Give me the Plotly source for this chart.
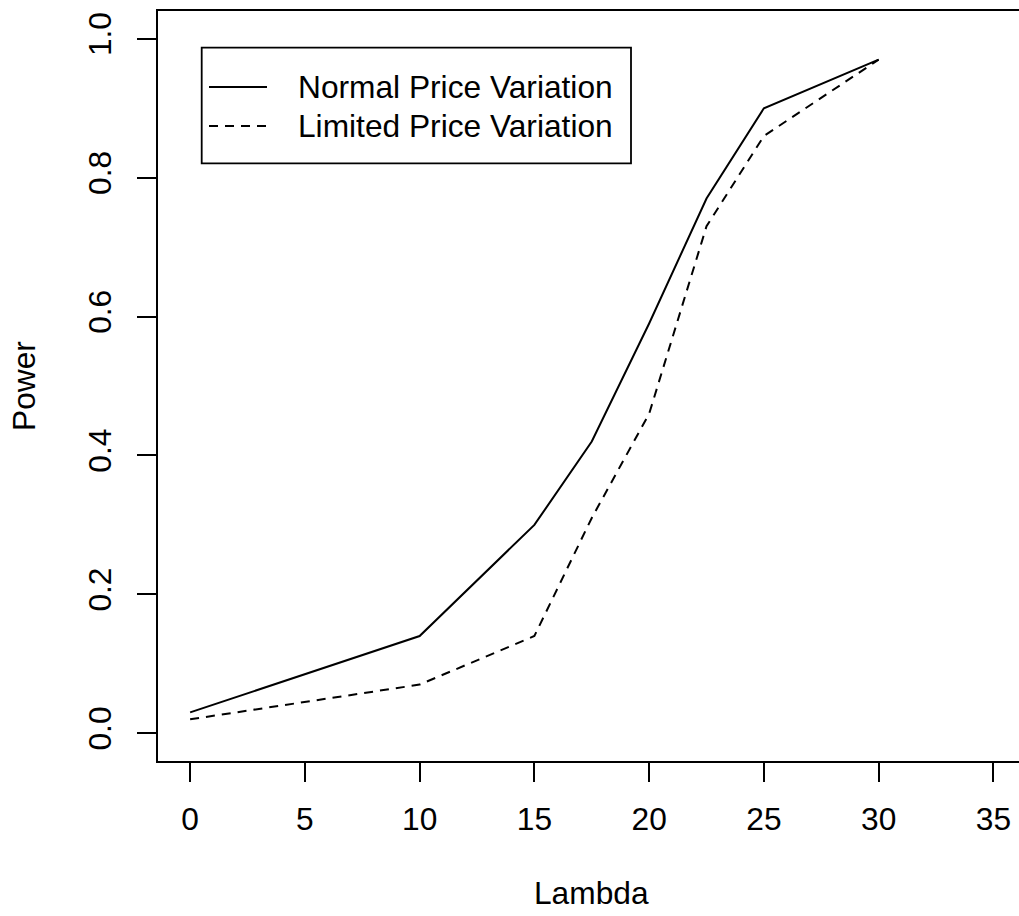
import plotly.graph_objects as go

# ---- data ----
lambda_vals = [0, 10, 15, 17.5, 20, 22.5, 25, 30]
normal_power = [0.03, 0.14, 0.30, 0.42, 0.59, 0.77, 0.90, 0.97]
limited_power = [0.02, 0.07, 0.14, 0.31, 0.46, 0.73, 0.86, 0.97]
series_names = ["Normal Price Variation", "Limited Price Variation"]
x_ticks = [0, 5, 10, 15, 20, 25, 30, 35]
y_ticks = [0.0, 0.2, 0.4, 0.6, 0.8, 1.0]

W, H = 1019, 916
ML, MR, MT, MB = 158, 0, 11, 155
PW, PH = W - ML - MR, H - MT - MB
FONT = "Liberation Sans, Arial, sans-serif"
FS = 31.7
LW = 2.0


def px(xp):
    return (xp - ML) / PW


def py(yp):
    return (H - MB - yp) / PH


fig = go.Figure()
fig.add_trace(go.Scatter(x=lambda_vals, y=normal_power, mode="lines", name=series_names[0],
                         line=dict(color="black", width=LW)))
fig.add_trace(go.Scatter(x=lambda_vals, y=limited_power, mode="lines", name=series_names[1],
                         line=dict(color="black", width=LW, dash="9px,7px")))

axis_common = dict(showgrid=False, zeroline=False, showline=True, linecolor="black", linewidth=1.8,
                   ticks="outside", ticklen=19, tickwidth=1.8, tickcolor="black",
                   tickfont=dict(family=FONT, size=FS, color="black"))

fig.update_xaxes(range=[-1.4, -1.4 + PW / 22.95], tickvals=x_ticks, mirror=True,
                 ticklabelstandoff=10, **axis_common)
fig.update_yaxes(range=[-0.04, 1.04], tickvals=y_ticks, tickformat=".1f", tickangle=-90,
                 mirror=False, ticklabelstandoff=13, **axis_common)

# legend box drawn in R style
shapes = [
    dict(type="rect", xref="paper", yref="paper", x0=px(201.7), x1=px(631), y0=py(163.3), y1=py(47.7),
         line=dict(color="black", width=1.8), fillcolor="white", layer="above"),
    dict(type="line", xref="paper", yref="paper", x0=px(209), x1=px(267), y0=py(87), y1=py(87),
         line=dict(color="black", width=LW)),
    dict(type="line", xref="paper", yref="paper", x0=px(209), x1=px(267), y0=py(126), y1=py(126),
         line=dict(color="black", width=LW, dash="9px,7px")),
]
annotations = [
    dict(text=series_names[0], xref="paper", yref="paper", x=px(296), y=py(87), xanchor="left",
         yanchor="middle", showarrow=False, font=dict(family=FONT, size=FS, color="black")),
    dict(text=series_names[1], xref="paper", yref="paper", x=px(296), y=py(126), xanchor="left",
         yanchor="middle", showarrow=False, font=dict(family=FONT, size=FS, color="black")),
    dict(text="Lambda", xref="x", yref="paper", x=17.5, y=py(892.5), xanchor="center",
         yanchor="middle", showarrow=False, font=dict(family=FONT, size=FS, color="black")),
    dict(text="Power", xref="paper", yref="y", x=px(24), y=0.5, xanchor="center",
         yanchor="middle", textangle=-90, showarrow=False, font=dict(family=FONT, size=FS, color="black")),
]

fig.update_layout(width=W, height=H, margin=dict(l=ML, r=MR, t=MT, b=MB, pad=0),
                  plot_bgcolor="white", paper_bgcolor="white", showlegend=False,
                  shapes=shapes, annotations=annotations,
                  font=dict(family=FONT, size=FS, color="black"))

fig.write_html("out.html", config={"displayModeBar": False},
               post_script="document.body.style.margin='0';document.body.style.overflow='hidden';")
